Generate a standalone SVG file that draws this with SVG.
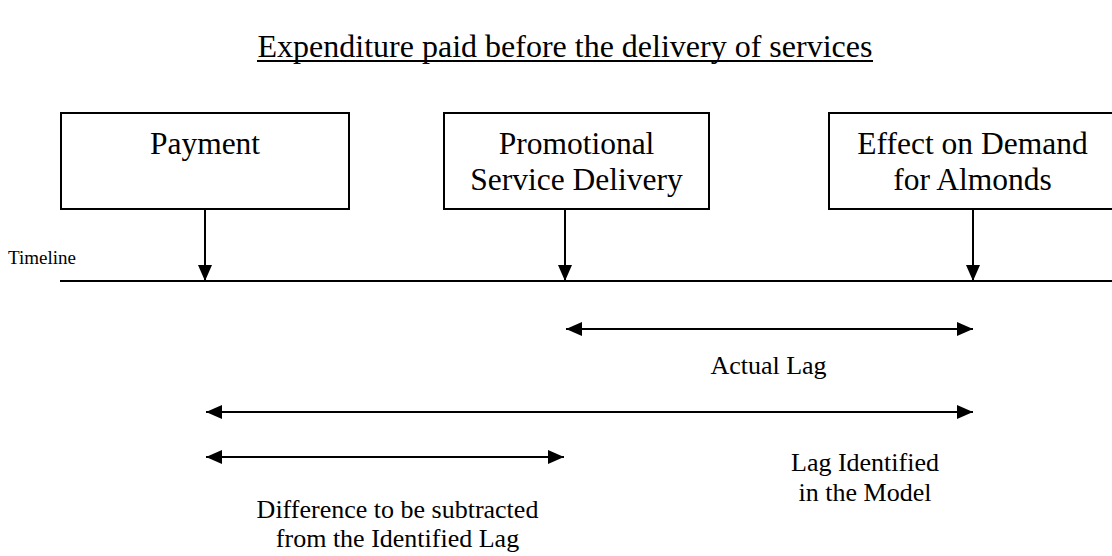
<svg xmlns="http://www.w3.org/2000/svg" width="1112" height="556" viewBox="0 0 1112 556">
<style>
text{font-family:"Liberation Serif","Times New Roman",serif;fill:#000}
.box{fill:#fff;stroke:#000;stroke-width:2}
.bt{font-size:31.5px;text-anchor:middle}
.lt{font-size:26px;text-anchor:middle}
.ln{stroke:#000;stroke-width:2;fill:none}
</style>
<defs>
<marker id="ah" viewBox="0 0 16 14" refX="16" refY="7" markerWidth="16" markerHeight="14" markerUnits="userSpaceOnUse" orient="auto-start-reverse">
<path d="M0,0 L16,7 L0,14 Z" fill="#000"/>
</marker>
</defs>
<g id="title">
<text x="565" y="57" style="font-size:32px;text-anchor:middle">Expenditure paid before the delivery of services</text>
<line x1="257" y1="61" x2="873" y2="61" stroke="#000" stroke-width="2"/>
</g>
<g id="payment">
<rect class="box" x="61" y="113" width="288" height="96"/>
<text class="bt" x="205" y="154">Payment</text>
</g>
<g id="promo">
<rect class="box" x="444" y="113" width="265" height="96"/>
<text class="bt" x="576.5" y="154">Promotional</text>
<text class="bt" x="576.5" y="190">Service Delivery</text>
</g>
<g id="effect">
<rect class="box" x="829" y="113" width="290" height="96"/>
<text class="bt" x="972.5" y="154">Effect on Demand</text>
<text class="bt" x="972.5" y="190">for Almonds</text>
</g>
<g id="timeline">
<text x="8" y="264" style="font-size:19px">Timeline</text>
<line class="ln" x1="60" y1="281" x2="1120" y2="281"/>
</g>
<g id="connectors">
<line class="ln" x1="205" y1="209" x2="205" y2="281" marker-end="url(#ah)"/>
<line class="ln" x1="565" y1="209" x2="565" y2="281" marker-end="url(#ah)"/>
<line class="ln" x1="973" y1="209" x2="973" y2="281" marker-end="url(#ah)"/>
<line class="ln" x1="566" y1="329" x2="973" y2="329" marker-start="url(#ah)" marker-end="url(#ah)"/>
<line class="ln" x1="206" y1="412" x2="973" y2="412" marker-start="url(#ah)" marker-end="url(#ah)"/>
<line class="ln" x1="206" y1="457" x2="564" y2="457" marker-start="url(#ah)" marker-end="url(#ah)"/>
</g>
<g id="labels">
<text class="lt" x="768.5" y="374">Actual Lag</text>
<text class="lt" x="865" y="471">Lag Identified</text>
<text class="lt" x="865" y="501">in the Model</text>
<text class="lt" x="397.5" y="518">Difference to be subtracted</text>
<text class="lt" x="397.5" y="547">from the Identified Lag</text>
</g>
</svg>
